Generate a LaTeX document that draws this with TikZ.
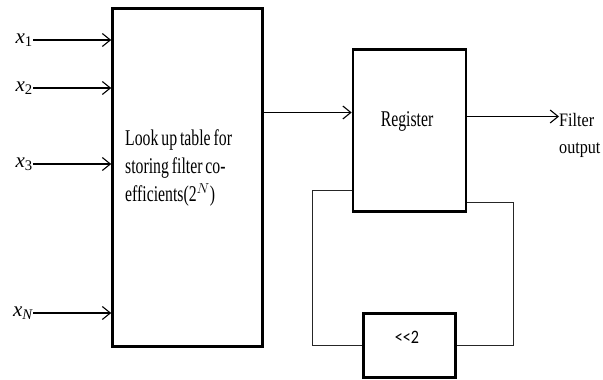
\documentclass[tikz,border=0pt]{standalone}
\usepackage{fontspec}
\setmainfont{Liberation Serif}
\newfontfamily\narrowserif[FakeStretch=0.7, WordSpace=0.75]{Liberation Serif}
\newfontfamily\outserif[FakeStretch=0.85]{Liberation Serif}
\newfontfamily\narrowsans[FakeStretch=0.85]{Carlito}
\usetikzlibrary{arrows.meta}

\begin{document}
\begin{tikzpicture}[
    x=1pt, y=-1pt,
% Block styles
    lutbox/.style={rectangle, draw, line width=2.6pt, minimum width=150pt, minimum height=338pt, inner sep=0pt},
    regbox/.style={rectangle, draw, line width=2.6pt, minimum width=113pt, minimum height=162pt, inner sep=0pt},
    shiftbox/.style={rectangle, draw, line width=2.6pt, minimum width=92pt, minimum height=64pt, inner sep=0pt},
    boxtext/.style={inner sep=0pt, font=\narrowserif\fontsize{22.5}{28}\selectfont},
    inlabel/.style={inner sep=0pt, font=\fontsize{21}{22}\selectfont},
    sig/.style={-{Straight Barb[length=8pt, width=13pt]}, line width=1.1pt},
    fb/.style={line width=0.9pt, black!85}
]
\useasboundingbox (0,0) rectangle (603,380);

% 1. Blocks
\node[lutbox] (lut) at (187.5,177.5) {};
\node[regbox] (reg) at (409.5,130.5) {};
\node[shiftbox] (shift) at (409.5,345.5) {};

% Block texts
\node[boxtext, anchor=north west, align=left] (luttext) at (125,129) {Look up table for\\storing filter co-\\efficients(2$^{N}$)};
\node[boxtext] (regtext) at (407,121) {Register};
\node[inner sep=0pt, font=\narrowsans\fontsize{19}{20}\selectfont] (shifttext) at (407,337) {<{}<2};

% 2. Inputs x_i -> look up table
\foreach \name/\sub/\ypos in {x1/1/40, x2/2/88, x3/3/164, xN/{\itshape N}/313} {
  \node[inlabel, anchor=east] (\name) at (33,\ypos) {{\itshape x}\textsubscript{\sub}};
  \draw[sig] (\name.east) -- (\name.east -| lut.west);
}

% 3. Table -> register -> output
\coordinate (regin) at ([yshift=18pt]reg.west);
\draw[sig] (lut.east |- regin) -- (regin);
\coordinate (regout) at ([yshift=14pt]reg.east);
\node[inner sep=0pt, font=\outserif\fontsize{19}{27}\selectfont, anchor=north west, align=left] (outtext) at (559,113) {Filter\\output};
\draw[sig] (regout) -- (regout -| outtext.west);

% 4. Feedback loop through the shifter
\coordinate (fbleft) at (312,190);
\coordinate (fbright) at (513,202);
\draw[fb] (reg.west |- fbleft) -- (fbleft) |- (shift.west);
\draw[fb] (reg.east |- fbright) -- (fbright) |- (shift.east);

\end{tikzpicture}
\end{document}
